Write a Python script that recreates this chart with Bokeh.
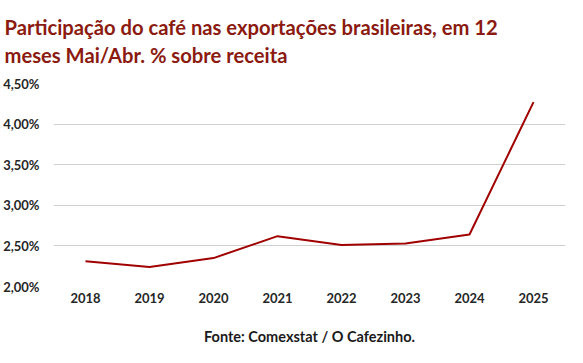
from bokeh.plotting import figure
from bokeh.models import Range1d, FixedTicker, CustomJSTickFormatter, Title
from bokeh.embed import file_html
from bokeh.resources import INLINE

years = ["2018", "2019", "2020", "2021", "2022", "2023", "2024", "2025"]
share = [2.31, 2.24, 2.35, 2.62, 2.51, 2.53, 2.64, 4.27]
y_ticks = [2.0, 2.5, 3.0, 3.5, 4.0, 4.5]

title_text = "Participação do café nas exportações brasileiras, em 12\nmeses Mai/Abr. % sobre receita"
source_text = "Fonte: Comexstat / O Cafezinho."

p = figure(width=567, height=347, x_range=years, y_range=Range1d(2.0, 4.5),
           output_backend="svg", toolbar_location=None,
           min_border_left=50, min_border_right=2, min_border_top=10, min_border_bottom=61)

p.title = Title(text=title_text, text_font="Lato", text_font_size="20.2px",
                text_font_style="bold", text_color="#8b1a10", align="left",
                vertical_align="top", offset=-49, standoff=29, text_line_height=1.15)

p.line(x=years, y=share, line_color="#a00000", line_width=2)

p.yaxis.ticker = FixedTicker(ticks=y_ticks)
p.yaxis.formatter = CustomJSTickFormatter(code="return tick.toFixed(2).replace('.', ',') + '%';")
for ax in (p.xaxis, p.yaxis):
    ax.axis_line_color = None
    ax.major_tick_line_color = None
    ax.minor_tick_line_color = None
    ax.major_label_text_font = "Lato"
    ax.major_label_text_font_size = "13px"
    ax.major_label_text_font_style = "bold"
    ax.major_label_text_color = "#262626"
p.yaxis.major_label_standoff = 8
p.xaxis.major_tick_out = 0
p.xaxis.major_tick_in = 0
p.xaxis.major_label_standoff = 6

p.xaxis.axis_label = source_text
p.xaxis.axis_label_text_font = "Lato"
p.xaxis.axis_label_text_font_size = "14.5px"
p.xaxis.axis_label_text_font_style = "bold"
p.xaxis.axis_label_text_color = "#1a1a1a"
p.xaxis.axis_label_standoff = 22

p.xgrid.grid_line_color = None
p.ygrid.grid_line_color = "#d0d0d0"
p.ygrid.grid_line_width = 1
p.outline_line_color = None
p.x_range.range_padding = 0

open("out.html", "w").write(file_html(p, INLINE))
